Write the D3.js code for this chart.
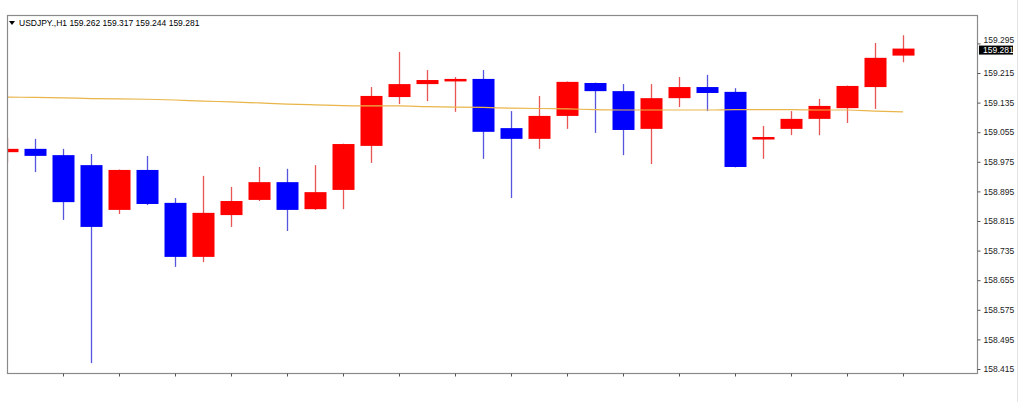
<!DOCTYPE html>
<html>
<head>
<meta charset="utf-8">
<script src="https://cdn.jsdelivr.net/npm/d3@7"></script>
<style>
  html, body { margin: 0; padding: 0; background: #ffffff; }
  svg { display: block; }
  text { font-family: "Liberation Sans", Arial, sans-serif; }
</style>
</head>
<body>
<svg id="chart" width="1024" height="402"></svg>
<script>
const symbolLabel = "USDJPY.,H1";
const lastOHLC = [159.262, 159.317, 159.244, 159.281];

const opens  = [159.001,159.010,158.993,158.966,158.845,158.953,158.864,158.718,158.831,158.872,158.920,158.847,158.899,159.018,159.150,159.185,159.193,159.199,159.066,159.037,159.099,159.188,159.166,159.064,159.147,159.177,159.164,159.039,159.064,159.091,159.120,159.177,159.262];
const highs  = [159.039,159.037,159.010,158.996,158.954,158.991,158.877,158.937,158.907,158.961,158.956,158.966,159.024,159.177,159.272,159.223,159.204,159.223,159.112,159.153,159.192,159.189,159.185,159.185,159.204,159.210,159.174,159.072,159.112,159.145,159.181,159.296,159.317];
const lows   = [158.974,158.947,158.818,158.431,158.834,158.858,158.691,158.704,158.799,158.869,158.788,158.845,158.847,158.972,159.131,159.139,159.110,158.983,158.877,159.010,159.064,159.053,158.993,158.969,159.123,159.112,158.960,158.983,159.047,159.047,159.080,159.118,159.244];
const closes = [159.010,158.991,158.866,158.799,158.953,158.861,158.718,158.837,158.869,158.920,158.845,158.893,159.023,159.153,159.185,159.196,159.199,159.056,159.037,159.099,159.191,159.166,159.061,159.147,159.177,159.161,158.961,159.042,159.091,159.126,159.180,159.256,159.281];
const maValues = [159.150,159.149,159.148,159.146,159.145,159.144,159.142,159.139,159.137,159.134,159.131,159.129,159.127,159.126,159.126,159.124,159.123,159.122,159.120,159.119,159.118,159.116,159.115,159.115,159.115,159.115,159.116,159.116,159.116,159.115,159.115,159.112,159.110];
const priceTicks = ["158.415","158.495","158.575","158.655","158.735","158.815","158.895","158.975","159.055","159.135","159.215","159.295"];

const upColor = "#ff0000", downColor = "#0000ff", maColor = "#e9b54a";
const frame = {left: 7, right: 977, top: 15, bottom: 373};

const svg = d3.select("#chart");

const x = d3.scaleLinear().domain([0, opens.length - 1]).range([7, 903]);
const y = d3.scaleLinear().domain([158.415, 159.295]).range([369, 43.4]);

// outer window edge
svg.append("line").attr("x1", 1017.5).attr("x2", 1017.5).attr("y1", 0).attr("y2", 402)
  .attr("stroke", "#e4e4e4").attr("stroke-width", 1);

// clip
svg.append("defs").append("clipPath").attr("id", "plotClip")
  .append("rect").attr("x", frame.left + 1).attr("y", frame.top + 1)
  .attr("width", frame.right - frame.left - 1).attr("height", frame.bottom - frame.top - 1);

const plot = svg.append("g").attr("clip-path", "url(#plotClip)");

const data = opens.map((o, i) => ({i, o, h: highs[i], l: lows[i], c: closes[i]}));

// wicks
plot.selectAll("line.wick").data(data).join("line")
  .attr("class", "wick")
  .attr("x1", d => Math.round(x(d.i)) + 0.5).attr("x2", d => Math.round(x(d.i)) + 0.5)
  .attr("y1", d => y(d.h)).attr("y2", d => y(d.l))
  .attr("stroke", d => d.c >= d.o ? "#e85555" : "#5555e0")
  .attr("stroke-width", 1.3);

// bodies
const bodyW = 22;
plot.selectAll("rect.body").data(data).join("rect")
  .attr("class", "body")
  .attr("x", d => Math.round(x(d.i)) - bodyW / 2 + 0.5)
  .attr("width", bodyW)
  .attr("y", d => y(Math.max(d.o, d.c)))
  .attr("height", d => Math.max(2.5, Math.abs(y(d.o) - y(d.c))))
  .attr("fill", d => d.c >= d.o ? upColor : downColor);

// moving average
const maLine = d3.line().x((d, i) => x(i)).y(d => y(d)).curve(d3.curveMonotoneX);
plot.append("path").datum(maValues).attr("d", maLine)
  .attr("fill", "none").attr("stroke", maColor).attr("stroke-width", 1.2);

// frame
svg.append("rect").attr("x", frame.left + 0.5).attr("y", frame.top + 0.5)
  .attr("width", frame.right - frame.left).attr("height", frame.bottom - frame.top)
  .attr("fill", "none").attr("stroke", "#8a8a8a").attr("stroke-width", 1.2);

// bottom axis ticks
const xTickIdx = d3.range(2, opens.length, 2);
const xAxis = d3.axisBottom(x).tickValues(xTickIdx).tickSize(3).tickFormat("");
svg.append("g").attr("transform", `translate(0,${frame.bottom + 0.5})`).call(xAxis)
  .call(g => g.select(".domain").remove())
  .call(g => g.selectAll("line").attr("stroke", "#555"));

// right price axis
const yAxis = d3.axisRight(y).tickValues(priceTicks.map(Number)).tickSize(3)
  .tickFormat(d => d3.format(".3f")(d));
const ya = svg.append("g").attr("transform", `translate(${frame.right + 0.5},0)`).call(yAxis);
ya.select(".domain").remove();
ya.selectAll("line").attr("stroke", "#555");
ya.selectAll("text").attr("x", 6).attr("fill", "#222")
  .style("font-family", "'Liberation Sans', Arial, sans-serif").style("font-size", "8.5px");
// top label sits just above the current-price box (partly hidden in the original)
ya.selectAll("text").filter(d => Math.abs(d - 159.295) < 1e-6).attr("dy", "-0.1em");

// current price label
const lastY = y(lastOHLC[3]);
svg.append("rect").attr("x", 979).attr("y", lastY - 3).attr("width", 34).attr("height", 9).attr("fill", "#000");
svg.append("text").attr("x", 983).attr("y", lastY + 4.5).attr("fill", "#fff")
  .style("font-size", "8.5px").text(d3.format(".3f")(lastOHLC[3]));

// title
svg.append("path").attr("d", "M9,21 L15,21 L12,25 Z").attr("fill", "#000");
svg.append("text").attr("x", 19).attr("y", 26).attr("fill", "#000").style("font-size", "8.5px")
  .text(symbolLabel + "  " + lastOHLC.map(v => d3.format(".3f")(v)).join(" "));
</script>
</body>
</html>
